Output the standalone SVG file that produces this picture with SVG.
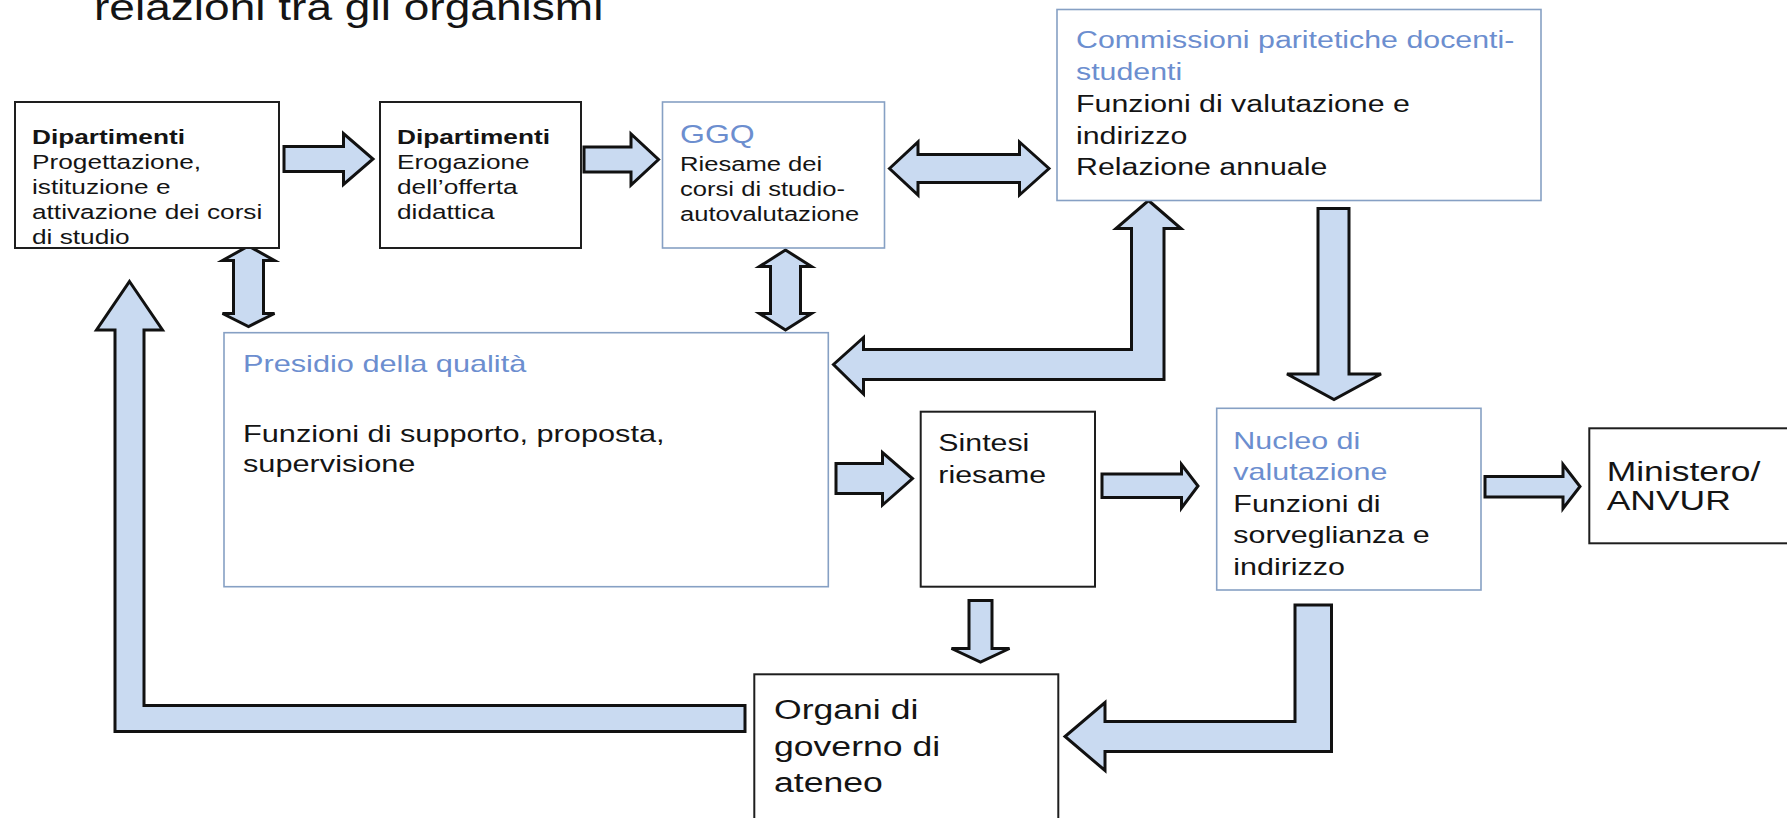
<svg xmlns="http://www.w3.org/2000/svg" width="1787" height="818" viewBox="0 0 1787 818">
<style>
.bg{fill:#fff}
.box{fill:#fff;stroke:#1e1e1e;stroke-width:2}
.bbox{fill:#fff;stroke:#86a0c4;stroke-width:1.6}
.arr{fill:#c9daf1;stroke:#111;stroke-width:3;stroke-linejoin:miter}
.t{font-family:"Liberation Sans",Arial,Helvetica,sans-serif;fill:#141414}
.bl{fill:#6c8ecf}
.bd{font-weight:bold}
</style>
<rect class="bg" x="0" y="0" width="1787" height="818"/>
<g id="title">
<text class="t" transform="translate(94 0) scale(1.28 1)" font-size="36"><tspan x="0" y="20">relazioni tra gli organismi</tspan></text>
</g>
<g id="connectors">
<polygon class="arr" points="284,146.5 343.5,146.5 343.5,133.5 373,159 343.5,184.5 343.5,171.5 284,171.5"/>
<polygon class="arr" points="584,147 631,147 631,134 658.5,159.5 631,185 631,172 584,172"/>
<polygon class="arr" points="889.5,168.5 918,142 918,154.5 1019.5,154.5 1019.5,142 1049,168.5 1019.5,195 1019.5,182.5 918,182.5 918,195"/>
<polygon class="arr" points="248.5,246 274.5,260.5 263.5,260.5 263.5,313.5 274.5,313.5 248.5,326.5 222.5,313.5 233.5,313.5 233.5,260.5 222.5,260.5"/>
<polygon class="arr" points="785.5,250 811.5,266.5 800.5,266.5 800.5,313.5 811.5,313.5 785.5,330 759.5,313.5 770.5,313.5 770.5,266.5 759.5,266.5"/>
<polygon class="arr" points="1148.5,200.5 1181,228.5 1164,228.5 1164,379.5 863.5,379.5 863.5,394 833.5,364.5 863.5,337.5 863.5,349.5 1131.5,349.5 1131.5,228.5 1116,228.5"/>
<polygon class="arr" points="1318,208.5 1349,208.5 1349,374 1381,374 1334,399.5 1287,374 1318,374"/>
<polygon class="arr" points="836,463.5 882.5,463.5 882.5,452.5 912.5,478.5 882.5,505 882.5,493.5 836,493.5"/>
<polygon class="arr" points="1102,474 1181.5,474 1181.5,464.5 1198,486 1181.5,508 1181.5,497.5 1102,497.5"/>
<polygon class="arr" points="1485,476.5 1563,476.5 1563,464.5 1580,486.5 1563,508.5 1563,497 1485,497"/>
<polygon class="arr" points="969,600.5 992,600.5 992,648.5 1009.5,648.5 980.5,662 951.5,648.5 969,648.5"/>
<polygon class="arr" points="1295,605 1331.5,605 1331.5,751.5 1105,751.5 1105,770.5 1065,736.5 1105,702.5 1105,721.5 1295,721.5"/>
<polygon class="arr" points="129.5,281.5 162.5,330 144,330 144,705.5 745,705.5 745,731.5 115,731.5 115,330 96.5,330"/>
</g>
<g id="dip1">
<rect class="box" x="15" y="102" width="264" height="146"/>
<text class="t" transform="translate(32 0) scale(1.28 1)" font-size="20.5"><tspan class="bd" x="0" y="144">Dipartimenti</tspan><tspan x="0" y="169.1">Progettazione,</tspan><tspan x="0" y="194.2">istituzione e</tspan><tspan x="0" y="219.3">attivazione dei corsi</tspan><tspan x="0" y="244.4">di studio</tspan></text>
</g>
<g id="dip2">
<rect class="box" x="380" y="102" width="201" height="146"/>
<text class="t" transform="translate(397 0) scale(1.28 1)" font-size="20.5"><tspan class="bd" x="0" y="144">Dipartimenti</tspan><tspan x="0" y="169.1">Erogazione</tspan><tspan x="0" y="194.2">dell’offerta</tspan><tspan x="0" y="219.3">didattica</tspan></text>
</g>
<g id="ggq">
<rect class="bbox" x="662.5" y="102" width="222" height="146"/>
<text class="t" transform="translate(680 0) scale(1.28 1)" font-size="20"><tspan class="bl" x="0" y="143" font-size="25">GGQ</tspan><tspan x="0" y="171">Riesame dei</tspan><tspan x="0" y="196.5">corsi di studio-</tspan><tspan x="0" y="221.5">autovalutazione</tspan></text>
</g>
<g id="commissioni">
<rect class="bbox" x="1057" y="9.5" width="484" height="191"/>
<text class="t" transform="translate(1076 0) scale(1.28 1)" font-size="23.7"><tspan class="bl" x="0" y="48.5">Commissioni paritetiche docenti-</tspan><tspan class="bl" x="0" y="80.2">studenti</tspan><tspan x="0" y="111.9">Funzioni di valutazione e</tspan><tspan x="0" y="143.6">indirizzo</tspan><tspan x="0" y="175.3">Relazione annuale</tspan></text>
</g>
<g id="presidio">
<rect class="bbox" x="224" y="332.7" width="604.3" height="254"/>
<text class="t" transform="translate(243 0) scale(1.28 1)" font-size="24"><tspan class="bl" x="0" y="371.7">Presidio della qualità</tspan><tspan x="0" y="441.7">Funzioni di supporto, proposta,</tspan><tspan x="0" y="471.7">supervisione</tspan></text>
</g>
<g id="sintesi">
<rect class="box" x="920.7" y="411.7" width="174.3" height="175"/>
<text class="t" transform="translate(938.3 0) scale(1.28 1)" font-size="23.7"><tspan x="0" y="451.5">Sintesi</tspan><tspan x="0" y="483.5">riesame</tspan></text>
</g>
<g id="nucleo">
<rect class="bbox" x="1216.7" y="408.3" width="264.3" height="181.7"/>
<text class="t" transform="translate(1233.3 0) scale(1.28 1)" font-size="23.8"><tspan class="bl" x="0" y="449">Nucleo di</tspan><tspan class="bl" x="0" y="480.5">valutazione</tspan><tspan x="0" y="512">Funzioni di</tspan><tspan x="0" y="543.5">sorveglianza e</tspan><tspan x="0" y="575">indirizzo</tspan></text>
</g>
<g id="ministero">
<rect class="box" x="1589.3" y="428.3" width="220" height="115"/>
<text class="t" transform="translate(1606.7 0) scale(1.28 1)" font-size="27.7"><tspan x="0" y="481">Ministero/</tspan><tspan x="0" y="510">ANVUR</tspan></text>
</g>
<g id="organi">
<rect class="box" x="754.3" y="674.3" width="304" height="160"/>
<text class="t" transform="translate(774 0) scale(1.28 1)" font-size="27.8"><tspan x="0" y="719.3">Organi di</tspan><tspan x="0" y="756">governo di</tspan><tspan x="0" y="792.5">ateneo</tspan></text>
</g>
</svg>
